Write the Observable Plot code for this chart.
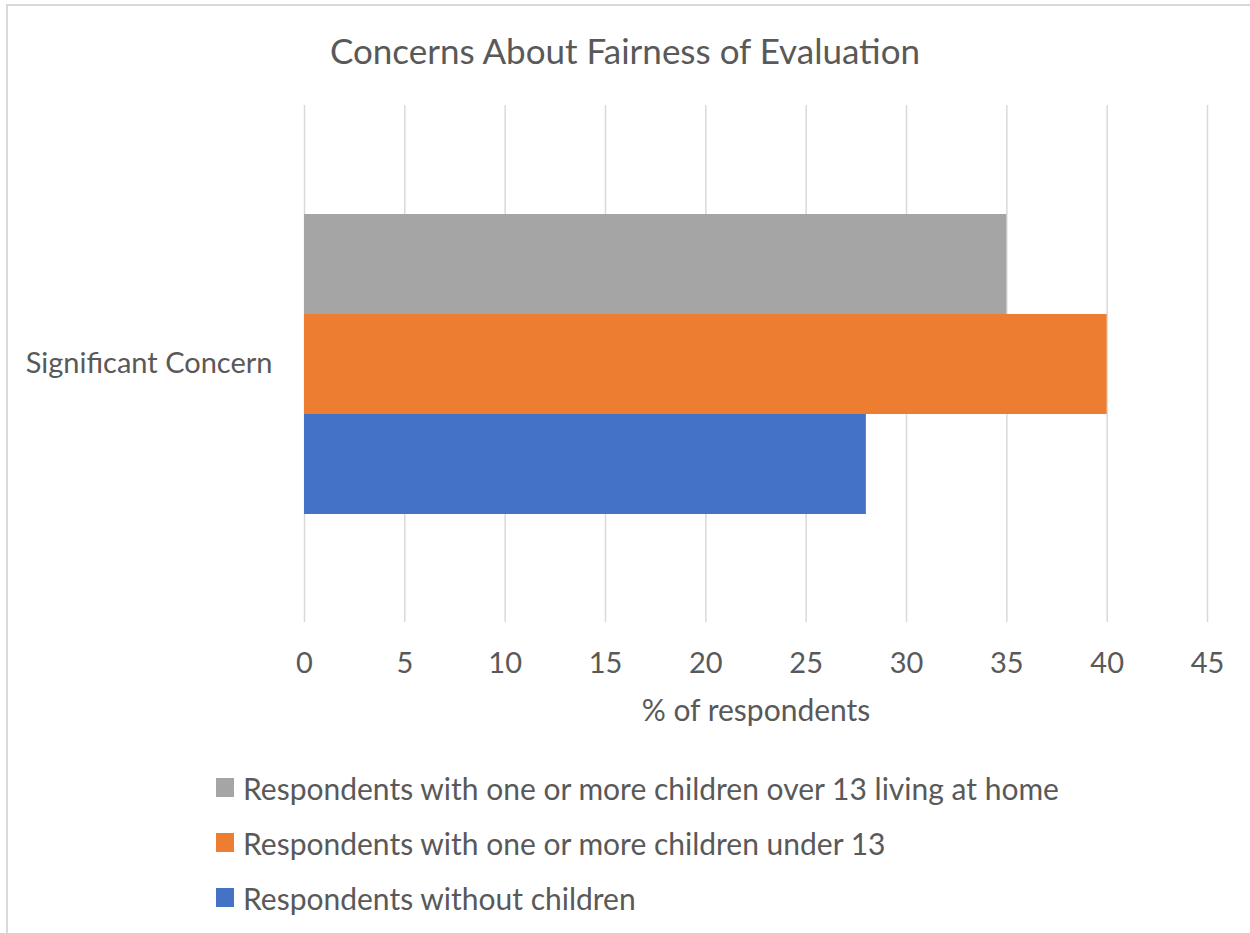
<!DOCTYPE html>
<html>
<head>
<meta charset="utf-8">
<script src="https://cdn.jsdelivr.net/npm/d3@7"></script>
<script src="https://cdn.jsdelivr.net/npm/@observablehq/plot@0.6"></script>
<style>
  html, body { margin: 0; padding: 0; background: #fff; overflow: hidden; }
  body { width: 1250px; height: 933px; position: relative; font-family: Lato, "Open Sans", sans-serif; color: #595959; }
  #border { position: absolute; left: 6px; top: 4px; width: 1300px; height: 1000px; border-left: 2px solid #d9d9d9; border-top: 2px solid #d9d9d9; pointer-events: none; }
  #title { height: 100px; line-height: 100px; text-align: center; font-size: 35px; color: #595959; }
  #chart svg { display: block; }
  #legend { padding-top: 20px; padding-left: 216px; }
  .row { height: 55px; display: flex; align-items: center; font-size: 30px; color: #595959; }
  .sw { width: 18px; height: 19px; margin-right: 9px; flex: none; }
</style>
</head>
<body>
<div id="border"></div>
<div id="title">Concerns About Fairness of Evaluation</div>
<div id="chart"></div>
<div id="legend"></div>
<script>
const categories = ["Significant Concern"];
const seriesNames = [
  "Respondents with one or more children over 13 living at home",
  "Respondents with one or more children under 13",
  "Respondents without children"
];
const seriesColors = ["#A5A5A5", "#ED7D31", "#4472C4"];
const valuesOver13 = [35];
const valuesUnder13 = [40];
const valuesNoChildren = [28];
const xTicks = [0, 5, 10, 15, 20, 25, 30, 35, 40, 45];
const xLabel = "% of respondents";

const seriesValues = [valuesOver13, valuesUnder13, valuesNoChildren];
const data = [];
categories.forEach((c, ci) => {
  seriesNames.forEach((s, si) => data.push({category: c, series: s, value: seriesValues[si][ci]}));
});

const plot = Plot.plot({
  width: 1250,
  height: 640,
  marginLeft: 304,
  marginRight: 43,
  marginTop: 5,
  marginBottom: 118,
  style: {fontFamily: "Lato, 'Open Sans', sans-serif", fontSize: "29px", color: "#595959", background: "transparent"},
  x: {domain: [0, 45], ticks: xTicks, tickSize: 0, tickPadding: 30, label: null},
  y: {domain: seriesNames, axis: null, paddingInner: 0, paddingOuter: 1.085},
  fy: {domain: categories, axis: "left", label: null, padding: 0, tickSize: 0, tickPadding: 32},
  color: {domain: seriesNames, range: seriesColors},
  facet: {data, y: "category", marginLeft: 304},
  marks: [
    Plot.gridX(xTicks, {stroke: "#d9d9d9", strokeOpacity: 1, strokeWidth: 1.5}),
    Plot.barX(data, {x: "value", y: "series", fill: "series", fy: "category"}),
    Plot.text([xLabel], {frameAnchor: "bottom", dy: 98, fill: "#595959", fontSize: 30})
  ]
});
document.getElementById("chart").appendChild(plot);

const legend = document.getElementById("legend");
seriesNames.forEach((s, i) => {
  const row = document.createElement("div");
  row.className = "row";
  const sw = document.createElement("span");
  sw.className = "sw";
  sw.style.background = seriesColors[i];
  const t = document.createElement("span");
  t.textContent = s;
  row.appendChild(sw);
  row.appendChild(t);
  legend.appendChild(row);
});
</script>
</body>
</html>
